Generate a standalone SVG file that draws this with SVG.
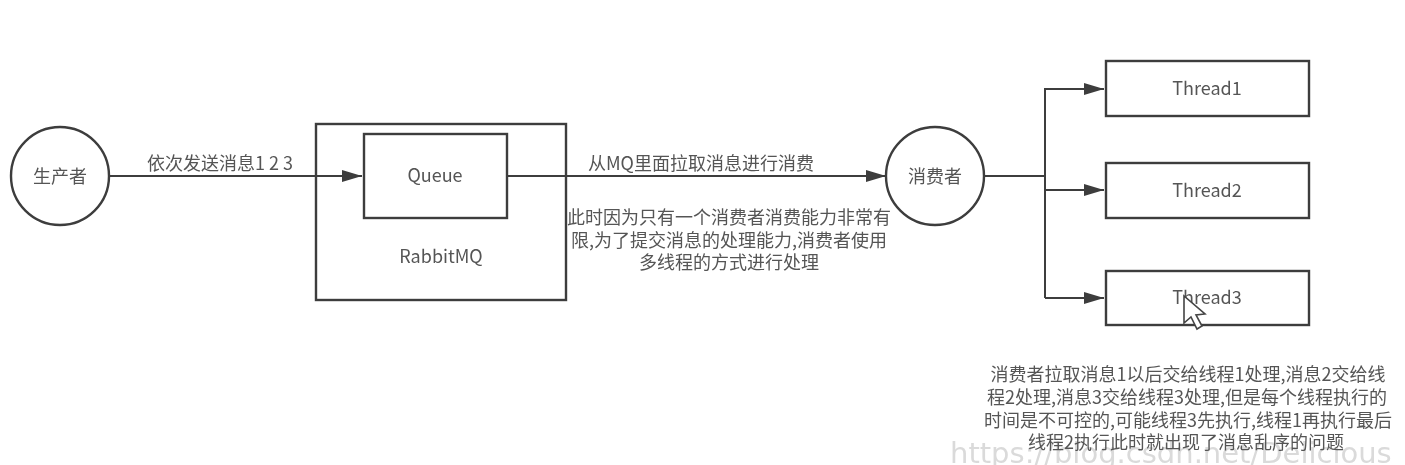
<svg xmlns="http://www.w3.org/2000/svg" width="1405" height="465" viewBox="0 0 1405 465">
<style>
.s{fill:#fff;stroke:#3c3c3c;stroke-width:2.4}
.c{fill:none;stroke:#3c3c3c;stroke-width:2}
text{font-family:"Noto Sans CJK SC","DejaVu Sans",sans-serif;font-size:18px;fill:#555;text-anchor:middle}
.w{font-family:"DejaVu Sans",sans-serif;font-size:29px;fill:#dadada;text-anchor:start}
</style>
<defs>
<marker id="a" markerUnits="userSpaceOnUse" markerWidth="21" markerHeight="14" refX="20" refY="7" orient="auto"><path d="M0 1 L20 7 L0 13 Z" fill="#3c3c3c"/></marker>
<filter id="b" x="-5%" y="-5%" width="110%" height="110%"><feGaussianBlur stdDeviation="0.7"/></filter>
</defs>
<rect width="1405" height="465" fill="#fff"/>
<g filter="url(#b)">
<text class="w" x="950" y="463">https://blog.csdn.net/Delicious</text>
<g id="producer"><circle class="s" cx="60" cy="176" r="49"/><text x="60" y="183">生产者</text></g>
<g id="rabbitmq"><rect class="s" x="316" y="124" width="250" height="176"/><text x="441" y="263">RabbitMQ</text></g>
<g id="queue"><rect class="s" x="364" y="134" width="143" height="84"/><text x="435" y="182">Queue</text></g>
<g id="consumer"><circle class="s" cx="935" cy="176" r="49"/><text x="935" y="183">消费者</text></g>
<g id="thread1"><rect class="s" x="1106" y="61" width="203" height="55"/><text x="1207" y="95">Thread1</text></g>
<g id="thread2"><rect class="s" x="1106" y="163" width="203" height="55"/><text x="1207" y="197">Thread2</text></g>
<g id="thread3"><rect class="s" x="1106" y="271" width="203" height="54"/><text x="1207" y="304">Thread3</text></g>
<g id="connectors">
<path class="c" d="M109 176 H362" marker-end="url(#a)"/>
<path class="c" d="M507 176 H886" marker-end="url(#a)"/>
<path class="c" d="M984 176 H1045"/>
<path class="c" d="M1045 298 V89 H1104" marker-end="url(#a)"/>
<path class="c" d="M1045 190 H1104" marker-end="url(#a)"/>
<path class="c" d="M1045 298 H1104" marker-end="url(#a)"/>
</g>
<g id="labels">
<text x="220" y="170">依次发送消息1 2 3</text>
<text x="701" y="170">从MQ里面拉取消息进行消费</text>
<text x="729" y="224">此时因为只有一个消费者消费能力非常有</text>
<text x="729" y="247">限,为了提交消息的处理能力,消费者使用</text>
<text x="729" y="269">多线程的方式进行处理</text>
<text x="1188" y="381">消费者拉取消息1以后交给线程1处理,消息2交给线</text>
<text x="1187" y="404">程2处理,消息3交给线程3处理,但是每个线程执行的</text>
<text x="1188" y="427">时间是不可控的,可能线程3先执行,线程1再执行最后</text>
<text x="1186" y="449">线程2执行此时就出现了消息乱序的问题</text>
</g>
<path id="cursor" d="M1184 296 V323 L1191 317 L1197 329 L1202 326 L1196 315 L1205 314 Z" fill="#fff" stroke="#444" stroke-width="1.6"/>
</g>
</svg>
